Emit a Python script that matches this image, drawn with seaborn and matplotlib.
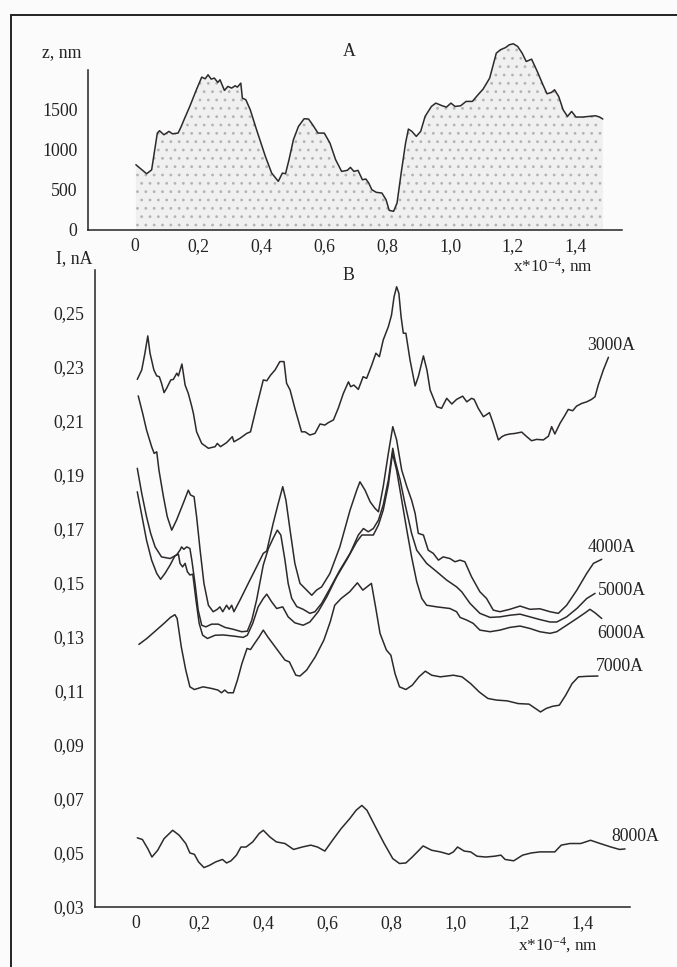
import numpy as np
import pandas as pd
import matplotlib
matplotlib.use("Agg")
import matplotlib.pyplot as plt
from matplotlib.lines import Line2D
import seaborn as sns

# ---------------- data ----------------
# Panel A: surface profile z (nm) vs x (x*10^-4 nm)
x_top = [0.003,0.037,0.053,0.071,0.078,0.092,0.108,0.119,0.137,0.147,
         0.158,0.174,0.195,0.212,0.223,0.232,0.242,0.252,0.263,0.270,
         0.284,0.295,0.307,0.318,0.325,0.336,0.341,0.352,0.366,0.386,
         0.414,0.434,0.455,0.468,0.478,0.489,0.503,0.519,0.537,0.551,
         0.564,0.581,0.601,0.619,0.637,0.656,0.674,0.684,0.695,0.708,
         0.722,0.733,0.742,0.752,0.766,0.784,0.797,0.807,0.821,0.832,
         0.845,0.859,0.868,0.879,0.893,0.907,0.921,0.941,0.955,0.975,
         0.989,1.003,1.016,1.034,1.051,1.071,1.089,1.105,1.126,1.147,
         1.160,1.177,1.188,1.201,1.215,1.229,1.242,1.259,1.277,1.295,
         1.308,1.322,1.332,1.345,1.359,1.373,1.386,1.400,1.421,1.441,
         1.462,1.475,1.485]
z_top = [814,702,750,1209,1238,1188,1230,1200,1209,1292,
         1396,1541,1749,1907,1886,1936,1882,1895,1841,1874,
         1741,1791,1770,1799,1782,1832,1645,1625,1500,1251,
         918,710,607,710,702,877,1126,1292,1388,1384,
         1313,1209,1209,1084,877,731,744,781,731,744,
         627,636,586,503,470,461,378,245,233,337,
         710,1084,1259,1230,1168,1230,1417,1541,1583,1550,
         1533,1583,1541,1550,1604,1604,1687,1757,1895,2206,
         2248,2277,2310,2323,2289,2206,2102,2131,1978,1812,
         1699,1716,1749,1666,1500,1417,1479,1409,1409,1417,
         1425,1409,1384]

# Panel B: current I (nA) for different wavelengths
x3000 = [0.004,0.018,0.028,0.037,0.044,0.056,0.065,0.073,0.080,0.088,
         0.096,0.109,0.117,0.128,0.133,0.144,0.154,0.164,0.175,0.180,
         0.190,0.206,0.227,0.248,0.255,0.265,0.284,0.302,0.307,0.326,
         0.347,0.359,0.378,0.399,0.410,0.422,0.436,0.451,0.464,0.472,
         0.483,0.498,0.519,0.530,0.545,0.561,0.577,0.592,0.603,0.619,
         0.634,0.650,0.666,0.673,0.683,0.697,0.712,0.723,0.739,0.752,
         0.763,0.775,0.791,0.801,0.809,0.817,0.824,0.831,0.838,0.846,
         0.859,0.875,0.885,0.901,0.912,0.922,0.943,0.958,0.974,0.990,
         1.005,1.024,1.037,1.052,1.060,1.073,1.089,1.097,1.108,1.120,
         1.136,1.147,1.157,1.172,1.188,1.209,1.225,1.240,1.256,1.277,
         1.293,1.303,1.313,1.329,1.345,1.355,1.369,1.381,1.397,1.413,
         1.428,1.439,1.449,1.465,1.481]
I3000 = [0.2253,0.2288,0.2350,0.2414,0.2350,0.2288,0.2266,0.2263,0.2239,0.2204,
         0.2220,0.2251,0.2253,0.2276,0.2266,0.2310,0.2232,0.2201,0.2152,0.2127,
         0.2059,0.2016,0.1998,0.2004,0.2016,0.2004,0.2019,0.2041,0.2022,0.2035,
         0.2053,0.2059,0.2152,0.2251,0.2248,0.2269,0.2288,0.2319,0.2319,0.2239,
         0.2214,0.2146,0.2059,0.2059,0.2047,0.2053,0.2088,0.2084,0.2093,0.2103,
         0.2146,0.2201,0.2244,0.2226,0.2232,0.2216,0.2263,0.2257,0.2306,0.2350,
         0.2337,0.2399,0.2448,0.2491,0.2559,0.2596,0.2572,0.2485,0.2424,0.2424,
         0.2325,0.2229,0.2263,0.2340,0.2288,0.2214,0.2152,0.2146,0.2183,0.2162,
         0.2179,0.2191,0.2170,0.2183,0.2179,0.2146,0.2115,0.2121,0.2130,0.2090,
         0.2029,0.2041,0.2047,0.2051,0.2053,0.2058,0.2041,0.2026,0.2031,0.2029,
         0.2043,0.2078,0.2051,0.2090,0.2121,0.2142,0.2137,0.2154,0.2164,0.2170,
         0.2179,0.2189,0.2232,0.2288,0.2335]

x4000 = [0.007,0.021,0.033,0.049,0.057,0.065,0.072,0.086,0.098,0.112,
         0.127,0.148,0.164,0.171,0.182,0.190,0.201,0.213,0.227,0.242,
         0.255,0.263,0.272,0.284,0.292,0.300,0.307,0.326,0.352,0.378,
         0.399,0.410,0.430,0.446,0.460,0.470,0.483,0.498,0.514,0.535,
         0.551,0.566,0.582,0.608,0.639,0.671,0.692,0.702,0.718,0.734,
         0.749,0.760,0.775,0.791,0.805,0.817,0.833,0.849,0.864,0.875,
         0.885,0.901,0.916,0.932,0.948,0.963,0.984,1.000,1.016,1.031,
         1.052,1.078,1.099,1.120,1.141,1.172,1.204,1.235,1.266,1.298,
         1.324,1.350,1.382,1.413,1.434,1.460]
I4000 = [0.2192,0.2127,0.2066,0.2004,0.1979,0.1985,0.1917,0.1819,0.1745,0.1695,
         0.1732,0.1794,0.1843,0.1825,0.1819,0.1745,0.1621,0.1498,0.1417,0.1393,
         0.1402,0.1411,0.1393,0.1417,0.1402,0.1417,0.1393,0.1436,0.1498,0.1559,
         0.1609,0.1618,0.1720,0.1794,0.1856,0.1806,0.1695,0.1572,0.1498,0.1473,
         0.1454,0.1473,0.1485,0.1535,0.1633,0.1769,0.1843,0.1874,0.1843,0.1800,
         0.1776,0.1763,0.1856,0.1979,0.2078,0.2029,0.1917,0.1856,0.1806,0.1757,
         0.1683,0.1677,0.1621,0.1609,0.1584,0.1596,0.1590,0.1578,0.1584,0.1578,
         0.1522,0.1467,0.1442,0.1399,0.1393,0.1402,0.1414,0.1402,0.1404,0.1393,
         0.1387,0.1417,0.1473,0.1535,0.1572,0.1587]

x5000 = [0.004,0.018,0.033,0.046,0.060,0.080,0.107,0.127,0.138,0.143,
         0.150,0.159,0.169,0.175,0.185,0.195,0.206,0.219,0.237,0.258,
         0.279,0.305,0.331,0.349,0.363,0.378,0.399,0.415,0.430,0.443,
         0.454,0.467,0.477,0.488,0.504,0.524,0.545,0.561,0.582,0.608,
         0.639,0.671,0.697,0.713,0.728,0.744,0.760,0.775,0.791,0.805,
         0.812,0.828,0.843,0.864,0.880,0.911,0.943,0.974,1.005,1.021,
         1.047,1.078,1.110,1.141,1.172,1.204,1.235,1.266,1.298,1.319,
         1.350,1.382,1.413,1.439]
I5000 = [0.1924,0.1831,0.1745,0.1683,0.1633,0.1596,0.1590,0.1603,0.1621,0.1633,
         0.1624,0.1633,0.1627,0.1584,0.1498,0.1399,0.1343,0.1337,0.1347,0.1347,
         0.1335,0.1328,0.1319,0.1321,0.1362,0.1436,0.1566,0.1627,0.1665,0.1695,
         0.1677,0.1584,0.1498,0.1443,0.1412,0.1402,0.1387,0.1393,0.1424,0.1479,
         0.1547,0.1609,0.1677,0.1701,0.1689,0.1701,0.1732,0.1788,0.1880,0.1998,
         0.1954,0.1880,0.1794,0.1683,0.1621,0.1572,0.1541,0.1510,0.1485,0.1467,
         0.1424,0.1387,0.1372,0.1374,0.1380,0.1384,0.1374,0.1364,0.1355,0.1355,
         0.1374,0.1405,0.1442,0.1461]

x6000 = [0.004,0.018,0.033,0.049,0.065,0.077,0.091,0.107,0.122,0.133,
         0.138,0.146,0.154,0.161,0.169,0.178,0.188,0.198,0.209,0.224,
         0.248,0.274,0.305,0.336,0.349,0.366,0.383,0.399,0.410,0.425,
         0.441,0.460,0.477,0.498,0.524,0.545,0.571,0.598,0.629,0.660,
         0.692,0.708,0.723,0.744,0.760,0.775,0.791,0.804,0.817,0.833,
         0.849,0.864,0.880,0.896,0.911,0.943,0.984,1.005,1.016,1.037,
         1.057,1.078,1.110,1.141,1.172,1.204,1.235,1.266,1.298,1.319,
         1.350,1.382,1.408,1.423,1.439,1.460]
I6000 = [0.1837,0.1751,0.1658,0.1584,0.1535,0.1513,0.1535,0.1566,0.1600,0.1606,
         0.1572,0.1559,0.1572,0.1541,0.1529,0.1532,0.1436,0.1350,0.1306,0.1294,
         0.1306,0.1307,0.1303,0.1298,0.1306,0.1350,0.1411,0.1442,0.1458,0.1430,
         0.1405,0.1411,0.1374,0.1352,0.1343,0.1355,0.1393,0.1448,0.1522,0.1584,
         0.1652,0.1677,0.1677,0.1677,0.1714,0.1769,0.1862,0.1979,0.1917,0.1806,
         0.1695,0.1596,0.1504,0.1442,0.1417,0.1411,0.1405,0.1393,0.1372,0.1362,
         0.1350,0.1325,0.1319,0.1325,0.1335,0.1340,0.1331,0.1319,0.1313,0.1319,
         0.1343,0.1368,0.1389,0.1402,0.1389,0.1368]

x7000 = [0.009,0.034,0.061,0.088,0.108,0.122,0.129,0.142,0.156,0.169,
         0.183,0.210,0.237,0.257,0.268,0.278,0.288,0.305,0.318,0.332,
         0.348,0.359,0.372,0.386,0.399,0.413,0.440,0.467,0.481,0.501,
         0.514,0.535,0.562,0.589,0.609,0.623,0.643,0.670,0.694,0.711,
         0.724,0.738,0.751,0.765,0.785,0.799,0.812,0.826,0.846,0.866,
         0.887,0.907,0.927,0.954,0.995,1.022,1.049,1.076,1.103,1.130,
         1.164,1.198,1.232,1.252,1.268,1.286,1.306,1.327,1.347,1.367,
         1.387,1.414,1.448]
I7000 = [0.1272,0.1294,0.1322,0.1350,0.1372,0.1382,0.1368,0.1263,0.1177,0.1115,
         0.1105,0.1115,0.1109,0.1103,0.1093,0.1103,0.1093,0.1093,0.1140,0.1201,
         0.1257,0.1253,0.1276,0.1300,0.1325,0.1300,0.1257,0.1214,0.1207,0.1158,
         0.1155,0.1177,0.1226,0.1288,0.1356,0.1417,0.1442,0.1467,0.1500,0.1473,
         0.1485,0.1498,0.1411,0.1313,0.1251,0.1232,0.1164,0.1115,0.1105,0.1121,
         0.1152,0.1173,0.1158,0.1152,0.1158,0.1152,0.1127,0.1096,0.1072,0.1066,
         0.1063,0.1053,0.1051,0.1035,0.1022,0.1035,0.1043,0.1047,0.1084,0.1127,
         0.1152,0.1154,0.1155]

x8000 = [0.004,0.020,0.037,0.050,0.068,0.088,0.115,0.135,0.156,0.169,
         0.183,0.196,0.213,0.230,0.250,0.271,0.284,0.298,0.315,0.329,
         0.345,0.366,0.386,0.399,0.420,0.440,0.467,0.494,0.521,0.548,
         0.569,0.592,0.616,0.643,0.670,0.690,0.708,0.724,0.751,0.778,
         0.805,0.826,0.846,0.866,0.887,0.900,0.927,0.954,0.981,0.995,
         1.008,1.029,1.049,1.069,1.096,1.124,1.144,1.157,1.184,1.212,
         1.239,1.266,1.293,1.313,1.333,1.360,1.394,1.425,1.455,1.489,
         1.516,1.533]
I8000 = [0.0556,0.0550,0.0516,0.0485,0.0510,0.0553,0.0584,0.0566,0.0535,0.0500,
         0.0495,0.0467,0.0446,0.0454,0.0467,0.0476,0.0463,0.0471,0.0492,0.0522,
         0.0522,0.0541,0.0572,0.0584,0.0559,0.0541,0.0535,0.0513,0.0522,0.0529,
         0.0522,0.0507,0.0547,0.0590,0.0627,0.0658,0.0676,0.0658,0.0596,0.0535,
         0.0479,0.0461,0.0463,0.0485,0.0510,0.0526,0.0510,0.0504,0.0495,0.0504,
         0.0522,0.0507,0.0504,0.0488,0.0485,0.0488,0.0492,0.0476,0.0471,0.0492,
         0.0500,0.0504,0.0504,0.0504,0.0529,0.0535,0.0535,0.0547,0.0535,0.0522,
         0.0513,0.0515]

series_names = ["3000A", "4000A", "5000A", "6000A", "7000A", "8000A"]
# label anchor points (data coords of panel B)
label_x = [1.414, 1.417, 1.448, 1.445, 1.442, 1.489]
label_y = [0.2380, 0.1629, 0.1473, 0.1314, 0.1192, 0.0562]

x_ticks = [0, 0.2, 0.4, 0.6, 0.8, 1.0, 1.2, 1.4]
x_ticklabels = ["0", "0,2", "0,4", "0,6", "0,8", "1,0", "1,2", "1,4"]
z_ticks = [0, 500, 1000, 1500, 2000]
z_ticklabels = ["0", "500", "1000", "1500", ""]
I_ticks = [0.03, 0.05, 0.07, 0.09, 0.11, 0.13, 0.15, 0.17, 0.19, 0.21, 0.23, 0.25]
I_ticklabels = ["0,03", "0,05", "0,07", "0,09", "0,11", "0,13", "0,15",
                "0,17", "0,19", "0,21", "0,23", "0,25"]

# ---------------- build tables ----------------
xs = [x3000, x4000, x5000, x6000, x7000, x8000]
Is = [I3000, I4000, I5000, I6000, I7000, I8000]
frames = []
for name, xx, yy in zip(series_names, xs, Is):
    assert len(xx) == len(yy), name
    frames.append(pd.DataFrame({"x": xx, "I": yy, "series": name}))
df_b = pd.concat(frames, ignore_index=True)
assert len(x_top) == len(z_top)
df_a = pd.DataFrame({"x": x_top, "z": z_top})

# ---------------- style ----------------
sns.set_theme(style="white")
plt.rcParams["font.family"] = ["Liberation Serif", "DejaVu Serif"]
plt.rcParams["mathtext.default"] = "regular"
plt.rcParams["hatch.linewidth"] = 0.8

INK = "#232323"
LINE = "#2e2a2a"
FS = 12.8

W, H = 677, 967
fig = plt.figure(figsize=(W / 100, H / 100), dpi=100, facecolor="#fbfbfb")

def fx(px):
    return px / W

def fy(py):
    return 1 - py / H

# ---------- Panel A ----------
ax_a = fig.add_axes([fx(88), fy(230), (622 - 88) / W, (230 - 40) / H])
ax_a.set_facecolor("none")
ax_a.fill_between(df_a["x"], 0, df_a["z"], facecolor="#f0f0f0",
                  edgecolor="#b4b4b4", hatch="..", linewidth=0, zorder=1)
sns.lineplot(data=df_a, x="x", y="z", ax=ax_a, color=LINE, lw=1.1,
             estimator=None, sort=False, zorder=3)
ax_a.set_xlim(-0.149, 1.546)
ax_a.set_ylim(0, 2370)
ax_a.set_xticks(x_ticks)
ax_a.set_xticklabels(x_ticklabels)
ax_a.set_yticks(z_ticks)
ax_a.set_yticklabels(z_ticklabels)
ax_a.spines["left"].set_bounds(0, 2000)

# ---------- Panel B ----------
ax_b = fig.add_axes([fx(95), fy(907), 535 / W, 637 / H])
ax_b.set_facecolor("none")
sns.lineplot(data=df_b, x="x", y="I", units="series", estimator=None,
             sort=False, color=LINE, lw=1.1, ax=ax_b)
ax_b.set_xlim(-0.1285, 1.5486)
ax_b.set_ylim(0.03, 0.2658)
ax_b.set_xticks(x_ticks)
ax_b.set_xticklabels(x_ticklabels)
ax_b.set_yticks(I_ticks)
ax_b.set_yticklabels(I_ticklabels)
for name, lx, ly in zip(series_names, label_x, label_y):
    ax_b.text(lx, ly, name, fontsize=FS, color=INK, ha="left", va="center")

for ax in (ax_a, ax_b):
    ax.set_xlabel("")
    ax.set_ylabel("")
    ax.grid(False)
    for s in ("top", "right"):
        ax.spines[s].set_visible(False)
    for s in ("left", "bottom"):
        ax.spines[s].set_color(INK)
        ax.spines[s].set_linewidth(1.1)
    ax.tick_params(axis="both", direction="inout", length=10, width=1.1,
                   color=INK, labelcolor=INK, labelsize=FS)
    ax.tick_params(axis="x", pad=1.0)
    ax.tick_params(axis="y", pad=2.5)

# ---------- free texts ----------
fig.text(fx(62), fy(53), "z, nm", fontsize=FS, color=INK, ha="center", va="center")
fig.text(fx(349), fy(52), "A", fontsize=FS, color=INK, ha="center", va="center")
fig.text(fx(553), fy(271), "x*10$^{-4}$, nm", fontsize=12.3, color=INK,
         ha="center", va="baseline")
fig.text(fx(74), fy(259), "I, nA", fontsize=FS, color=INK, ha="center", va="center")
fig.text(fx(348), fy(276), "B", fontsize=FS, color=INK, ha="center", va="center")
fig.text(fx(558), fy(950), "x*10$^{-4}$, nm", fontsize=12.3, color=INK,
         ha="center", va="baseline")

# outer frame (top and left border of the scanned page)
fig.add_artist(Line2D([fx(11), 1.0], [fy(15), fy(15)], transform=fig.transFigure,
                      color=INK, lw=1.4))
fig.add_artist(Line2D([fx(11), fx(11)], [0.0, fy(15)], transform=fig.transFigure,
                      color=INK, lw=1.4))

fig.savefig("out.png", dpi=100, facecolor=fig.get_facecolor())
